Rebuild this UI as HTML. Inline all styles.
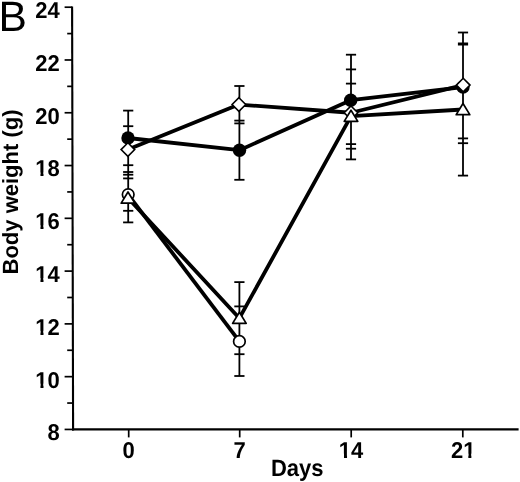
<!DOCTYPE html>
<html><head><meta charset="utf-8"><style>
html,body{margin:0;padding:0;background:#fff;width:520px;height:482px;overflow:hidden}
svg{display:block;text-rendering:geometricPrecision}
</style></head><body>
<svg width="520" height="482" viewBox="0 0 520 482">
<rect width="520" height="482" fill="#fff"/>
<g stroke="#000" fill="none">
<line x1="72.1" y1="6.4" x2="73.1" y2="430.4" stroke-width="2.1"/>
<line x1="72" y1="429.3" x2="518.6" y2="429.3" stroke-width="2.3"/>
<line x1="64.6" y1="429.44" x2="73.1" y2="429.44" stroke-width="1.7"/>
<line x1="67.2" y1="403.05" x2="73.0" y2="403.05" stroke-width="1.7"/>
<line x1="64.6" y1="376.66" x2="73.0" y2="376.66" stroke-width="1.7"/>
<line x1="67.2" y1="350.27" x2="72.9" y2="350.27" stroke-width="1.7"/>
<line x1="64.6" y1="323.88" x2="72.8" y2="323.88" stroke-width="1.7"/>
<line x1="67.2" y1="297.49" x2="72.8" y2="297.49" stroke-width="1.7"/>
<line x1="64.6" y1="271.10" x2="72.7" y2="271.10" stroke-width="1.7"/>
<line x1="67.2" y1="244.71" x2="72.7" y2="244.71" stroke-width="1.7"/>
<line x1="64.6" y1="218.32" x2="72.6" y2="218.32" stroke-width="1.7"/>
<line x1="67.2" y1="191.93" x2="72.5" y2="191.93" stroke-width="1.7"/>
<line x1="64.6" y1="165.54" x2="72.5" y2="165.54" stroke-width="1.7"/>
<line x1="67.2" y1="139.15" x2="72.4" y2="139.15" stroke-width="1.7"/>
<line x1="64.6" y1="112.76" x2="72.4" y2="112.76" stroke-width="1.7"/>
<line x1="67.2" y1="86.37" x2="72.3" y2="86.37" stroke-width="1.7"/>
<line x1="64.6" y1="59.98" x2="72.2" y2="59.98" stroke-width="1.7"/>
<line x1="67.2" y1="33.59" x2="72.2" y2="33.59" stroke-width="1.7"/>
<line x1="64.6" y1="7.20" x2="72.1" y2="7.20" stroke-width="1.7"/>
<line x1="128.7" y1="429" x2="128.7" y2="437.4" stroke-width="1.7"/>
<line x1="239.7" y1="429" x2="239.7" y2="437.4" stroke-width="1.7"/>
<line x1="351.2" y1="429" x2="351.2" y2="437.4" stroke-width="1.7"/>
<line x1="462.8" y1="429" x2="462.8" y2="437.4" stroke-width="1.7"/>
</g>
<g font-family="Liberation Sans, Arial, sans-serif" font-weight="bold" font-size="22" fill="#000">
<text transform="translate(47.56,440.35) scale(1,1.04)">8</text>
<text transform="translate(35.33,387.57) scale(1,1.04)">10</text>
<text transform="translate(35.33,334.79) scale(1,1.04)">12</text>
<text transform="translate(35.33,282.01) scale(1,1.04)">14</text>
<text transform="translate(35.33,229.23) scale(1,1.04)">16</text>
<text transform="translate(35.33,176.45) scale(1,1.04)">18</text>
<text transform="translate(35.33,123.67) scale(1,1.04)">20</text>
<text transform="translate(35.33,70.89) scale(1,1.04)">22</text>
<text transform="translate(35.33,18.11) scale(1,1.04)">24</text>
<text transform="translate(122.38,457.60) scale(1,1.04)">0</text>
<text transform="translate(233.38,457.60) scale(1,1.04)">7</text>
<text transform="translate(338.86,457.60) scale(1,1.04)">14</text>
<text transform="translate(450.96,457.60) scale(1,1.04)">21</text>
<text transform="translate(297.2,475.9) scale(1,1.07)" text-anchor="middle">Days</text>
<text transform="translate(17.9,192) rotate(-90)" text-anchor="middle">Body weight (g)</text>
</g>
<rect x="35.52" y="383.63" width="4.94" height="4.64" fill="#fff"/>
<rect x="43.49" y="383.63" width="4.05" height="4.64" fill="#fff"/>
<rect x="35.52" y="330.85" width="4.94" height="4.64" fill="#fff"/>
<rect x="43.49" y="330.85" width="4.05" height="4.64" fill="#fff"/>
<rect x="35.52" y="278.07" width="4.94" height="4.64" fill="#fff"/>
<rect x="43.49" y="278.07" width="4.05" height="4.64" fill="#fff"/>
<rect x="35.52" y="225.29" width="4.94" height="4.64" fill="#fff"/>
<rect x="43.49" y="225.29" width="4.05" height="4.64" fill="#fff"/>
<rect x="35.52" y="172.51" width="4.94" height="4.64" fill="#fff"/>
<rect x="43.49" y="172.51" width="4.05" height="4.64" fill="#fff"/>
<rect x="339.05" y="453.66" width="4.94" height="4.64" fill="#fff"/>
<rect x="347.03" y="453.66" width="4.05" height="4.64" fill="#fff"/>
<rect x="463.39" y="453.66" width="4.94" height="4.64" fill="#fff"/>
<rect x="471.36" y="453.66" width="4.05" height="4.64" fill="#fff"/>
<text x="-1.4" y="31.2" font-family="Liberation Sans, Arial, sans-serif" font-size="42.6" fill="#000">B</text>
<g stroke="#000" fill="none" stroke-width="3.8" stroke-linejoin="round">
<polyline points="128,138 239.5,150.2 350.7,100.2 463,87.1"/>
<polyline points="127.9,149.6 238.9,104.55 351,112.75 463.2,85.1"/>
<polyline points="128.2,194.6 239.4,341.4"/>
<polyline points="128,198 239.4,318.2 351,116.2 463,109.5"/>
</g>
<g stroke="#000" stroke-width="1.8" fill="none">
<line x1="128.2" y1="110.6" x2="128.2" y2="222.4"/>
<line x1="123.1" y1="110.6" x2="133.3" y2="110.6"/>
<line x1="123.1" y1="126.2" x2="133.3" y2="126.2"/>
<line x1="123.1" y1="165.2" x2="133.3" y2="165.2"/>
<line x1="123.1" y1="172" x2="133.3" y2="172"/>
<line x1="123.1" y1="174.7" x2="133.3" y2="174.7"/>
<line x1="123.1" y1="178.4" x2="133.3" y2="178.4"/>
<line x1="123.1" y1="210.8" x2="133.3" y2="210.8"/>
<line x1="123.1" y1="222.4" x2="133.3" y2="222.4"/>
<line x1="239.4" y1="86" x2="239.4" y2="179.8"/>
<line x1="239.4" y1="282.1" x2="239.4" y2="376"/>
<line x1="234.3" y1="86" x2="244.5" y2="86"/>
<line x1="234.3" y1="120.6" x2="244.5" y2="120.6"/>
<line x1="234.3" y1="123.4" x2="244.5" y2="123.4"/>
<line x1="234.3" y1="179.8" x2="244.5" y2="179.8"/>
<line x1="234.3" y1="282.1" x2="244.5" y2="282.1"/>
<line x1="234.3" y1="306.4" x2="244.5" y2="306.4"/>
<line x1="234.3" y1="354.2" x2="244.5" y2="354.2"/>
<line x1="234.3" y1="376" x2="244.5" y2="376"/>
<line x1="351.0" y1="54.7" x2="351.0" y2="159.4"/>
<line x1="345.9" y1="54.7" x2="356.1" y2="54.7"/>
<line x1="345.9" y1="69.4" x2="356.1" y2="69.4"/>
<line x1="345.9" y1="83.6" x2="356.1" y2="83.6"/>
<line x1="345.9" y1="144.1" x2="356.1" y2="144.1"/>
<line x1="345.9" y1="148.7" x2="356.1" y2="148.7"/>
<line x1="345.9" y1="159.4" x2="356.1" y2="159.4"/>
<line x1="463.0" y1="32.5" x2="463.0" y2="175.6"/>
<line x1="457.9" y1="32.5" x2="468.1" y2="32.5"/>
<line x1="457.9" y1="43.4" x2="468.1" y2="43.4"/>
<line x1="457.9" y1="44.6" x2="468.1" y2="44.6"/>
<line x1="457.9" y1="138.4" x2="468.1" y2="138.4"/>
<line x1="457.9" y1="143.2" x2="468.1" y2="143.2"/>
<line x1="457.9" y1="175.6" x2="468.1" y2="175.6"/>
</g>
<circle cx="128" cy="138" r="6.7" fill="#000"/>
<circle cx="239.5" cy="150.2" r="6.7" fill="#000"/>
<circle cx="350.7" cy="100.2" r="6.7" fill="#000"/>
<circle cx="463" cy="87.1" r="6.7" fill="#000"/>
<polygon points="127.9,142.79999999999998 134.70000000000002,149.6 127.9,156.4 121.10000000000001,149.6" fill="#fff" stroke="#000" stroke-width="1.6"/>
<polygon points="238.9,97.75 245.70000000000002,104.55 238.9,111.35 232.1,104.55" fill="#fff" stroke="#000" stroke-width="1.6"/>
<polygon points="351,105.95 357.8,112.75 351,119.55 344.2,112.75" fill="#fff" stroke="#000" stroke-width="1.6"/>
<polygon points="463.2,78.3 470.0,85.1 463.2,91.89999999999999 456.4,85.1" fill="#fff" stroke="#000" stroke-width="1.6"/>
<circle cx="128.2" cy="194.6" r="5.8" fill="#fff" stroke="#000" stroke-width="1.7"/>
<circle cx="239.4" cy="341.4" r="5.8" fill="#fff" stroke="#000" stroke-width="1.7"/>
<polygon points="128,192.00 134.80,203.15 121.20,203.15" fill="#fff" stroke="#000" stroke-width="1.7" stroke-linejoin="round"/>
<polygon points="239.4,312.20 246.20,323.35 232.60,323.35" fill="#fff" stroke="#000" stroke-width="1.7" stroke-linejoin="round"/>
<polygon points="351,110.20 357.80,121.35 344.20,121.35" fill="#fff" stroke="#000" stroke-width="1.7" stroke-linejoin="round"/>
<polygon points="463,103.50 469.80,114.65 456.20,114.65" fill="#fff" stroke="#000" stroke-width="1.7" stroke-linejoin="round"/>
</svg>
</body></html>
